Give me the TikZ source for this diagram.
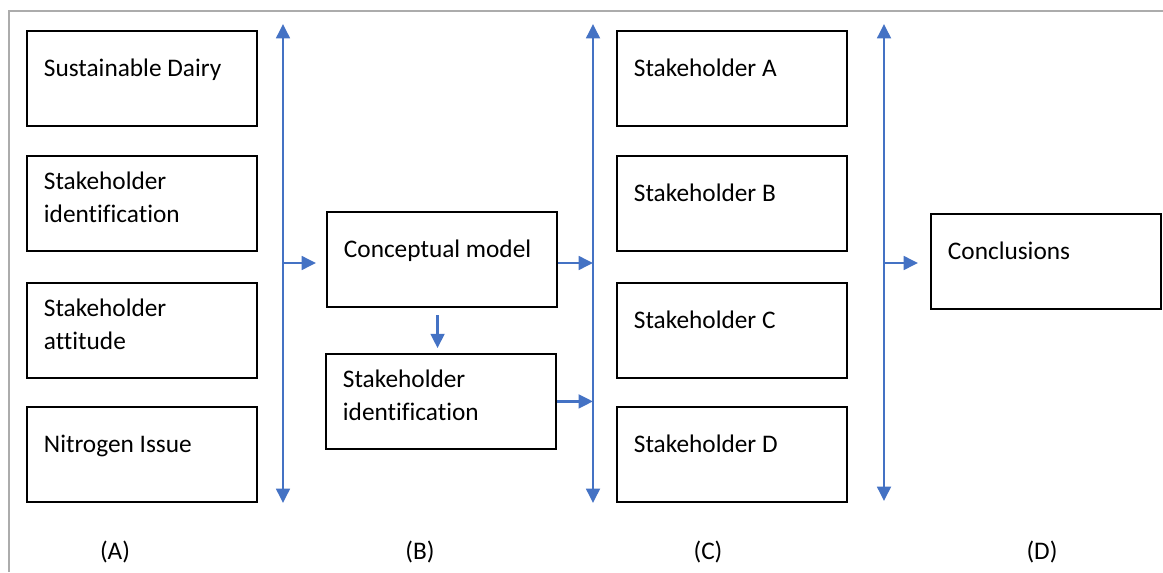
\documentclass[tikz,border=0pt]{standalone}
\usepackage{fontspec}
\setmainfont[Ligatures=NoCommon]{Carlito}
\usetikzlibrary{arrows.meta,positioning}
\definecolor{wordblue}{RGB}{68,114,196}

\begin{document}
\begin{tikzpicture}[x=0.025cm,y=-0.025cm,>={Triangle[length=0.36cm,width=0.34cm]},font=\fontsize{18}{23.5}\selectfont]
\tikzstyle{bx}=[draw,line width=1.3pt,anchor=north west,align=flush left,text width=4.9cm,inner xsep=0.425cm,inner ysep=0pt,text height=1.15cm,text depth=1.225cm]
\tikzstyle{bxtwo}=[bx,text height=0.85cm,text depth=1.525cm]
\tikzstyle{bar}=[<->,wordblue,line width=2.1pt]
\tikzstyle{link}=[->,wordblue,line width=2.1pt]
\useasboundingbox (0,0) rectangle (1163,572);
\draw[gray!65,line width=1pt] (9,572) -- (9,11) -- (1163,11);
% column A
\node[bx] (sd) at (26,30) {Sustainable Dairy};
\node[bxtwo] (sida) at (26,155) {Stakeholder\\identification};
\node[bxtwo] (satt) at (26,282) {Stakeholder\\attitude};
\node[bx] (nit) at (26,406) {Nitrogen Issue};
% column B
\node[bx] (cm) at (326,211) {Conceptual model};
\node[bxtwo] (sidb) at (325,353) {Stakeholder\\identification};
% column C
\node[bx] (sha) at (616,30) {Stakeholder A};
\node[bx] (shb) at (616,155) {Stakeholder B};
\node[bx] (shc) at (616,282) {Stakeholder C};
\node[bx] (shd) at (616,406) {Stakeholder D};
% column D
\node[bx] (con) at (930,213) {Conclusions};
% bars
\coordinate (b1t) at (283,24);
\coordinate (b1b) at (283,503);
\coordinate (b2t) at (593,24);
\coordinate (b2b) at (593,503);
\coordinate (b3t) at (884,24);
\coordinate (b3b) at (884,501);
\coordinate (mid) at (283,263);
\draw[bar] (b1t) -- (b1b);
\draw[bar] (b2t) -- (b2b);
\draw[bar] (b3t) -- (b3b);
% links
\draw[link,shorten >=0.25cm] (mid) -- (cm.west |- mid);
\draw[link] (cm.east |- mid) -- (b2t |- mid);
\draw[link] (sidb.east) -- (sidb.east -| b2t);
\draw[link,shorten <=0.18cm,shorten >=0.12cm] ([xshift=-0.11cm]cm.south) -- ([xshift=-0.11cm]cm.south |- sidb.north);
\draw[link,shorten >=0.3cm] (b3t |- mid) -- (con.west |- mid);
% labels
\node (la) at (115,552) {(A)};
\node (lb) at (420,552) {(B)};
\node (lc) at (708,552) {(C)};
\node (ld) at (1042,552) {(D)};
\end{tikzpicture}
\end{document}
